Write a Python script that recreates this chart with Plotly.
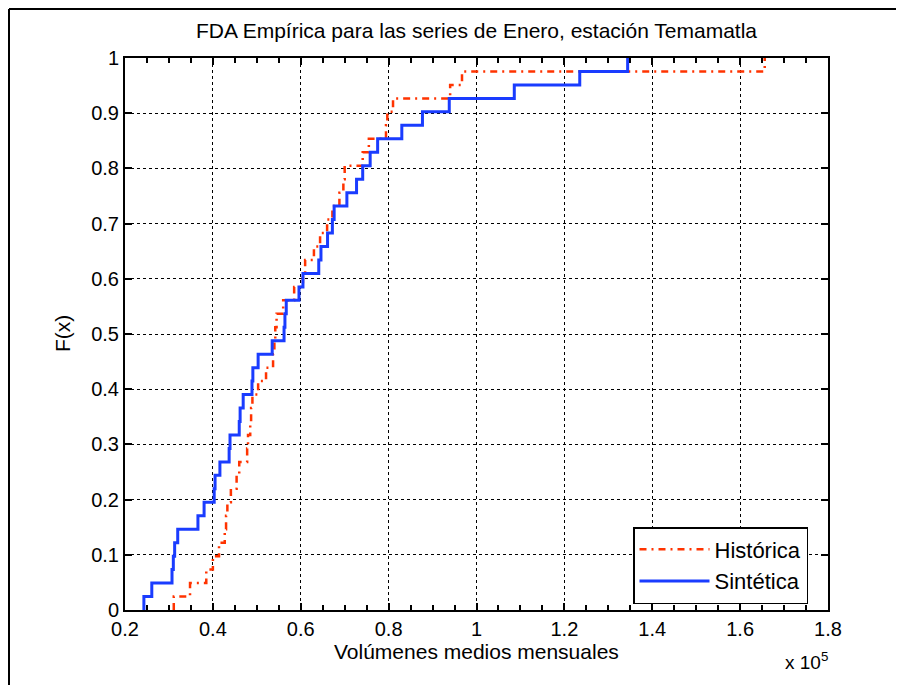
import numpy as np
import plotly.graph_objects as go

# Sorted monthly mean volumes (units: m^3) (x 10^5)
historica = [31100, 34800, 38500, 40000, 41400, 42700, 43000, 43300, 44100, 45400,
             46000, 47800, 48000, 48500, 48700, 49000, 50300, 52100, 53700, 54000,
             54200, 54500, 56000, 58500, 60500, 61000, 63000, 64400, 66000, 67200,
             68800, 69700, 70000, 74100, 75500, 79400, 79700, 81000, 94000, 96700,
             165600]
sintetica = [24300, 26100, 30700, 31000, 31300, 32000, 36600, 38000, 40300, 40500,
             41600, 43700, 43900, 46000, 46200, 46900, 48900, 49100, 50300, 53500,
             56200, 56400, 56700, 59600, 60500, 64100, 64600, 66100, 67200, 67600,
             70500, 72700, 74100, 75800, 77500, 83000, 87700, 93800, 108600, 123500,
             134400]
series_names = ["Histórica", "Sintética"]
x_ticks = [0.2, 0.4, 0.6, 0.8, 1.0, 1.2, 1.4, 1.6, 1.8]
x_tick_labels = ["0.2", "0.4", "0.6", "0.8", "1", "1.2", "1.4", "1.6", "1.8"]
y_ticks = [0, 0.1, 0.2, 0.3, 0.4, 0.5, 0.6, 0.7, 0.8, 0.9, 1.0]
y_tick_labels = ["0", "0.1", "0.2", "0.3", "0.4", "0.5", "0.6", "0.7", "0.8", "0.9", "1"]
SCALE = 1e5


def ecdf(values):
    v = np.sort(np.asarray(values, dtype=float)) / SCALE
    n = len(v)
    xs = np.concatenate([[v[0]], v])
    ys = np.concatenate([[0.0], np.arange(1, n + 1) / n])
    return xs, ys


fig = go.Figure()
hx, hy = ecdf(historica)
sx, sy = ecdf(sintetica)
fig.add_trace(go.Scatter(x=hx, y=hy, mode="lines", name=series_names[0],
                         line=dict(shape="hv", color="#ff3300", width=2.5,
                                   dash="7px,5px,2px,5px")))
fig.add_trace(go.Scatter(x=sx, y=sy, mode="lines", name=series_names[1],
                         line=dict(shape="hv", color="#1a3cff", width=3)))

FONT = "Liberation Sans, Arial, sans-serif"
OFF = 8  # page body margin
W, H = 904 - OFF, 685 - OFF
L, T = 125 - OFF, 58 - OFF
R, B = 904 - 828, 685 - 610
pw, ph = W - L - R, H - T - B

axis_common = dict(showline=True, linecolor="black", linewidth=2, mirror="allticks",
                   ticks="inside", ticklen=7, tickwidth=1.5, tickcolor="black",
                   showgrid=True, gridcolor="black", gridwidth=1, griddash="dot",
                   zeroline=False, tickfont=dict(family=FONT, size=20, color="black"))

fig.update_xaxes(range=[0.2, 1.8], tickvals=x_ticks, ticktext=x_tick_labels,
                 minor=dict(dtick=0.05, tick0=0.2, ticks="inside", ticklen=5,
                            tickcolor="black", tickwidth=1.5, showgrid=False),
                 **axis_common)
fig.update_yaxes(range=[0, 1], tickvals=y_ticks, ticktext=y_tick_labels, **axis_common)

# page pixel -> paper coords
px2x = lambda p: (p - OFF - L) / pw
py2y = lambda p: (H - B - (p - OFF)) / ph

annotations = [
    dict(text="FDA Empírica para las series de Enero, estación Temamatla",
         x=0.5, y=py2y(30), xref="paper", yref="paper", showarrow=False,
         font=dict(family=FONT, size=21, color="black"), xanchor="center", yanchor="middle"),
    dict(text="Volúmenes medios mensuales", x=0.5, y=py2y(651), xref="paper", yref="paper",
         showarrow=False, font=dict(family=FONT, size=21, color="black"),
         xanchor="center", yanchor="middle"),
    dict(text="F(x)", x=px2x(62), y=0.5, xref="paper", yref="paper", textangle=-90,
         showarrow=False, font=dict(family=FONT, size=21, color="black"),
         xanchor="center", yanchor="middle"),
    dict(text="x 10<sup>5</sup>", x=px2x(806), y=py2y(661), xref="paper", yref="paper",
         showarrow=False, font=dict(family=FONT, size=19, color="black"),
         xanchor="center", yanchor="middle"),
]

shapes = [
    dict(type="line", xref="paper", yref="paper", x0=px2x(9), x1=px2x(9), y0=py2y(9), y1=py2y(685),
         line=dict(color="black", width=2)),
    dict(type="line", xref="paper", yref="paper", x0=px2x(9), x1=px2x(902), y0=py2y(9), y1=py2y(9),
         line=dict(color="black", width=2)),
    dict(type="line", xref="paper", yref="paper", x0=px2x(902), x1=px2x(902), y0=py2y(9), y1=py2y(685),
         line=dict(color="black", width=2)),
]

fig.update_layout(
    width=W, height=H, margin=dict(l=L, r=R, t=T, b=B, autoexpand=False),
    paper_bgcolor="white", plot_bgcolor="white",
    annotations=annotations, shapes=shapes,
    legend=dict(x=px2x(633), y=py2y(527), xanchor="left", yanchor="top",
                bgcolor="white", bordercolor="black", borderwidth=1.5,
                font=dict(family=FONT, size=22, color="black"), itemwidth=70,
                tracegroupgap=0),
    showlegend=True,
)

fig.write_html("out.html")
